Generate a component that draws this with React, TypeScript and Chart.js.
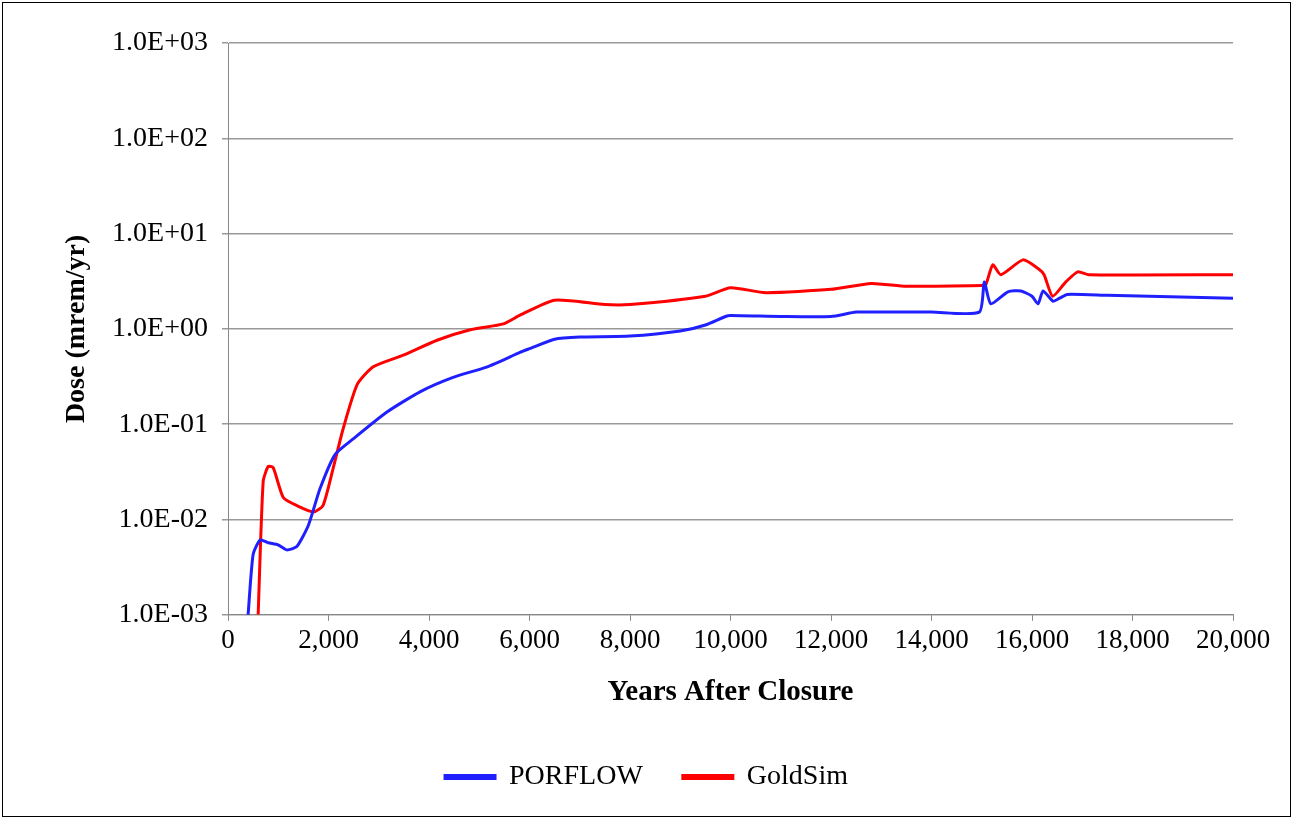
import React, { useEffect, useRef } from "react";
import { Chart, registerables } from "chart.js";
Chart.register(...registerables);

const porflowYears = [400, 500, 640, 800, 1000, 1170, 1370, 1600, 1830, 2130, 2490, 3170, 3830, 4480, 5160, 5820, 6000, 6500, 7000, 8000, 9000, 9500, 9900, 10000, 11000, 12000, 12500, 13000, 14000, 14950, 15050, 15180, 15520, 15780, 16000, 16120, 16220, 16420, 16550, 16700, 17500, 20000];
const porflowDose = [0.001, 0.0043, 0.0061, 0.0057, 0.0054, 0.0048, 0.0052, 0.0087, 0.021, 0.048, 0.07, 0.135, 0.22, 0.31, 0.4, 0.57, 0.62, 0.78, 0.82, 0.84, 0.95, 1.1, 1.35, 1.38, 1.35, 1.35, 1.5, 1.5, 1.5, 1.5, 3.1, 1.83, 2.45, 2.5, 2.2, 1.83, 2.5, 1.95, 2.1, 2.3, 2.25, 2.1];
const goldsimYears = [600, 700, 800, 900, 1100, 1370, 1700, 1890, 2090, 2290, 2570, 2890, 3490, 4160, 4820, 5480, 5820, 6500, 7500, 8000, 9500, 10000, 10700, 12000, 12800, 13500, 15000, 15080, 15220, 15380, 15820, 16120, 16240, 16410, 16670, 16910, 17130, 20000];
const goldsimDose = [0.001, 0.025, 0.036, 0.035, 0.017, 0.014, 0.012, 0.014, 0.034, 0.089, 0.26, 0.4, 0.53, 0.76, 0.98, 1.13, 1.4, 2.0, 1.8, 1.8, 2.2, 2.7, 2.4, 2.6, 3.0, 2.8, 2.85, 2.9, 4.7, 3.7, 5.3, 4.3, 3.7, 2.2, 3.1, 3.97, 3.7, 3.7];
const yTicks = [0.001, 0.01, 0.1, 1, 10, 100, 1000];

const pts = (xs: number[], ys: number[]) => xs.map((x, i) => ({ x, y: ys[i] }));

export default function App() {
  const ref = useRef<HTMLCanvasElement>(null);
  useEffect(() => {
    const font = "'Liberation Serif', 'Times New Roman', serif";
    const chart = new Chart(ref.current!, {
      type: "line",
      data: {
        datasets: [
          { label: "PORFLOW", data: pts(porflowYears, porflowDose), borderColor: "#2020ff", backgroundColor: "#2020ff", borderWidth: 3, pointRadius: 0, tension: 0.2 },
          { label: "GoldSim", data: pts(goldsimYears, goldsimDose), borderColor: "#ff0000", backgroundColor: "#ff0000", borderWidth: 3, pointRadius: 0, tension: 0.2 },
        ],
      },
      options: {
        animation: false,
        responsive: false,
        layout: { padding: { left: 60, right: 60, top: 43, bottom: 18 } },
        scales: {
          x: {
            type: "linear", min: 0, max: 20000,
            ticks: { stepSize: 2000, color: "#000", font: { family: font, size: 27 }, padding: 4, callback: (v: any) => Number(v).toLocaleString("en-US") },
            grid: { drawOnChartArea: false, color: "#888", tickLength: 6 },
            border: { color: "#888" },
            title: { display: true, text: "Years After Closure", color: "#000", font: { family: font, size: 29, weight: "bold" }, padding: { top: 14, bottom: 13 } },
          },
          y: {
            type: "logarithmic", min: 0.001, max: 1000,
            afterBuildTicks: (s: any) => { s.ticks = yTicks.map((v) => ({ value: v })); },
            afterFit: (s: any) => { s.width = 168; },
            ticks: { color: "#000", font: { family: font, size: 28 }, padding: 14, callback: (v: any) => { const e = Math.round(Math.log10(Number(v))); return "1.0E" + (e < 0 ? "-" : "+") + String(Math.abs(e)).padStart(2, "0"); } },
            grid: { color: "#999", lineWidth: 1.5, tickLength: 6 },
            border: { color: "#888" },
            title: { display: true, text: "Dose (mrem/yr)", color: "#000", font: { family: font, size: 28, weight: "bold" }, padding: 0 },
          },
        },
        plugins: {
          legend: { position: "bottom", labels: { color: "#000", font: { family: font, size: 28 }, boxWidth: 50, boxHeight: 3, padding: 40 } },
          tooltip: { enabled: false },
        },
      },
    });
    return () => chart.destroy();
  }, []);
  return (
    <div style={{ position: "fixed", left: 0, top: 0, width: 1293, height: 819, background: "#fff" }}>
      <div style={{ position: "absolute", left: 2, top: 2, width: 1287, height: 813, border: "1px solid #000" }} />
      <canvas ref={ref} width={1293} height={819} style={{ position: "absolute", left: 0, top: 0 }} />
    </div>
  );
}
